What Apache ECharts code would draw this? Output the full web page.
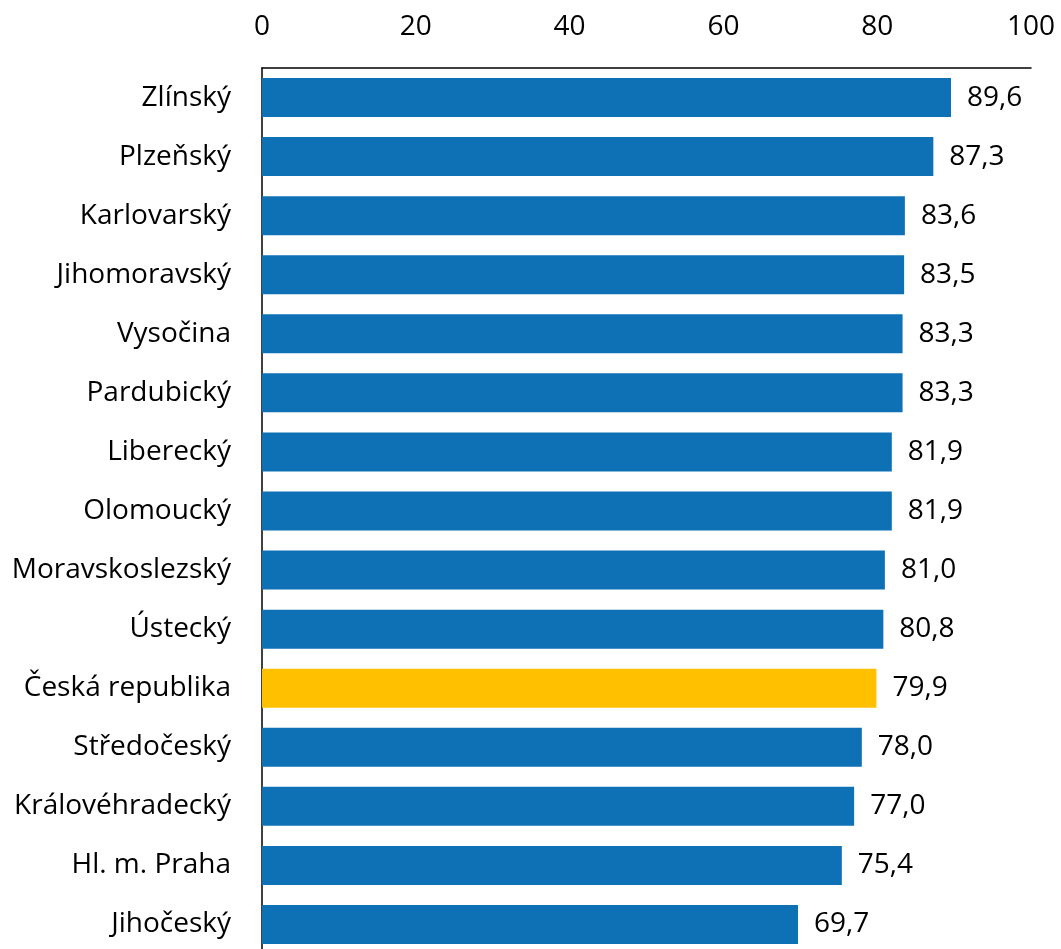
<!DOCTYPE html>
<html lang="cs">
  <head>
    <meta charset="utf-8" />
    <script src="https://cdn.jsdelivr.net/npm/echarts@6/dist/echarts.min.js"></script>
    <style>
      html, body { margin: 0; padding: 0; background: #fff; }
      #chart { width: 1061px; height: 949px; }
    </style>
    <title>Kraje</title>
  </head>
  <body>
    <div id="chart"></div>
    <script>
      // data, top to bottom as in the picture
      var regions = ['Zlínský', 'Plzeňský', 'Karlovarský', 'Jihomoravský', 'Vysočina', 'Pardubický',
        'Liberecký', 'Olomoucký', 'Moravskoslezský', 'Ústecký', 'Česká republika', 'Středočeský',
        'Královéhradecký', 'Hl. m. Praha', 'Jihočeský']
      var values = [89.6, 87.3, 83.6, 83.5, 83.3, 83.3, 81.9, 81.9, 81.0, 80.8, 79.9, 78.0, 77.0, 75.4, 69.7]
      var xTicks = [0, 20, 40, 60, 80, 100]

      var blue = '#0e71b6'
      var yellow = '#ffc000'
      var font = 'Open Sans'

      var chart = echarts.init(document.getElementById('chart'))
      chart.setOption({
        animation: false,
        // plot runs a bit past the bottom edge, like the cropped original
        grid: { left: 262, right: 30, top: 68, height: 886, outerBoundsMode: 'none' },
        xAxis: {
          type: 'value',
          position: 'top',
          min: xTicks[0],
          max: xTicks[xTicks.length - 1],
          interval: 20,
          axisLine: { show: true, lineStyle: { color: '#000', width: 1.5 } },
          axisTick: { show: false },
          splitLine: { show: false },
          axisLabel: { margin: 27, color: '#000', fontSize: 28, fontFamily: font }
        },
        yAxis: {
          type: 'category',
          inverse: true,
          data: regions,
          axisLine: { show: true, lineStyle: { color: '#000', width: 1.5 } },
          axisTick: { show: false },
          axisLabel: { margin: 31, color: '#000', fontSize: 28, fontFamily: font }
        },
        series: [{
          type: 'bar',
          barCategoryGap: '34%',
          data: values.map(function (v, i) {
            return { value: v, itemStyle: { color: regions[i] === 'Česká republika' ? yellow : blue } }
          }),
          label: {
            show: true,
            position: 'right',
            distance: 16,
            color: '#000',
            fontSize: 28,
            fontFamily: font,
            formatter: function (p) { return p.value.toFixed(1).replace('.', ',') }
          }
        }]
      })
    </script>
  </body>
</html>
